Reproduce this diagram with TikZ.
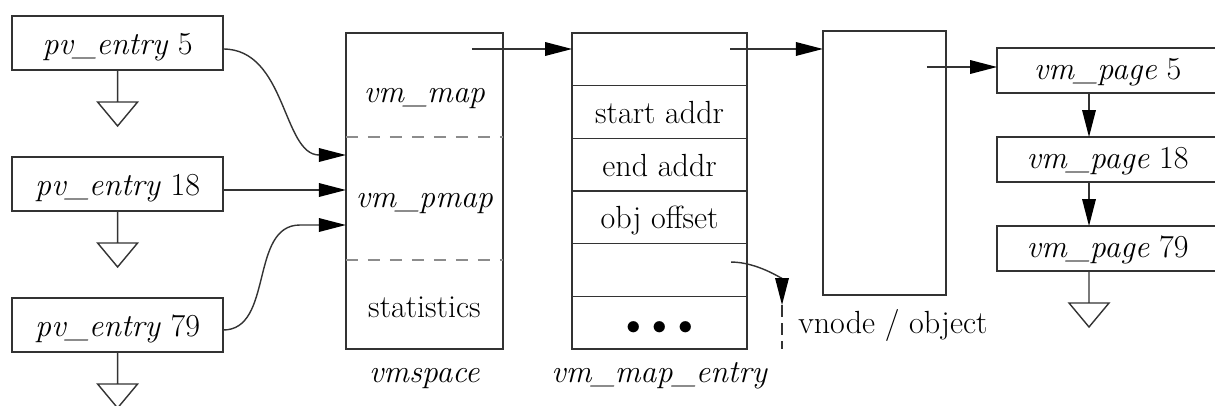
\documentclass[tikz,border=0pt]{standalone}
\usetikzlibrary{arrows.meta,positioning,calc}

% stem and open triangle hanging below a point
\newcommand{\groundsym}[1]{%
  \draw[wire] (#1) -- ++(0,-0.8) ++(-0.5,0) -- ++(1,0) -- ++(-0.5,-0.6) -- cycle;}

\begin{document}
\begin{tikzpicture}[
  font=\fontsize{22.8}{27}\selectfont,
  wire/.style    = {draw=black!80, line width=1pt},
  pvbox/.style   = {rectangle, wire, minimum width=5.275cm, minimum height=1.35cm,
                    text height=0.74cm, text depth=0.16cm, inner sep=0pt, outer sep=0pt},
  rowbox/.style  = {rectangle, wire, minimum width=4.375cm, minimum height=1.317cm,
                    text height=0.74cm, text depth=0.16cm, inner sep=0pt, outer sep=0pt},
  pagebox/.style = {rectangle, wire, minimum width=5.525cm, minimum height=1.125cm,
                    text height=0.6cm, text depth=0.16cm, inner sep=0pt, outer sep=0pt},
  tall/.style    = {rectangle, wire, inner sep=0pt, outer sep=0pt},
  sep/.style     = {draw=black!45, line width=1pt, dash pattern=on 0.3cm off 0.25cm},
  arr/.style     = {-{Triangle[length=0.675cm,width=0.34cm,color=black]}, wire},
  lbl/.style     = {anchor=base, inner sep=0pt}
]
\useasboundingbox (0,0) rectangle (30.375,-10.125);

% pv entries
\node[pvbox] (pv5)  at (2.94,-1.075) {\textit{pv\_entry} 5};
\node[pvbox] (pv18) at (2.94,-4.6)   {\textit{pv\_entry} 18};
\node[pvbox] (pv79) at (2.94,-8.125) {\textit{pv\_entry} 79};
\groundsym{pv5.south}
\groundsym{pv18.south}
\groundsym{pv79.south}

% vmspace
\node[tall, minimum width=3.925cm, minimum height=7.9cm] (vmspace) at (10.61,-4.775) {};
\draw[sep] ($(vmspace.north west)+(0,-2.6)$)   -- ($(vmspace.north east)+(0,-2.6)$);
\draw[sep] ($(vmspace.north west)+(0,-5.675)$) -- ($(vmspace.north east)+(0,-5.675)$);
\node[lbl] (lmap)   at ($(vmspace.north)+(0,-1.725)$) {\textit{vm\_map}};
\node[lbl] (lpmap)  at ($(vmspace.north)+(0,-4.35)$)  {\textit{vm\_pmap}};
\node[lbl] (lstats) at ($(vmspace.north)+(0,-7.1)$)   {statistics};
\node[lbl] (lspace) at ($(vmspace.south)+(0,-0.825)$) {\textit{vmspace}};

% vm_map_entry
\node[rowbox] (e0) at (16.49,-1.483) {};
\node[rowbox, below=0pt of e0] (e1) {start addr};
\node[rowbox, below=0pt of e1] (e2) {end addr};
\node[rowbox, below=0pt of e2] (e3) {obj offset};
\node[rowbox, below=0pt of e3] (e4) {};
\node[rowbox, below=0pt of e4] (e5) {$\bullet\,\bullet\,\bullet$};
\node[lbl] (lentry) at ($(e5.south)+(0,-0.825)$) {\textit{vm\_map\_entry}};

% vnode / object
\node[tall, minimum width=3.075cm, minimum height=6.6cm] (vnode) at (22.11,-4.075) {};

% vm pages
\node[pagebox] (pg5) at (27.69,-1.7625) {\textit{vm\_page} 5};
\node[pagebox, below=1.1cm of pg5]  (pg18) {\textit{vm\_page} 18};
\node[pagebox, below=1.1cm of pg18] (pg79) {\textit{vm\_page} 79};
\coordinate (px) at (27.225,0);
\draw[arr] (pg5.south -| px)  -- (pg18.north -| px);
\draw[arr] (pg18.south -| px) -- (pg79.north -| px);
\groundsym{pg79.south -| px}

% pv entries to vm_pmap
\coordinate (a5)  at ($(pv5.east)+(0,-0.15)$);
\coordinate (a18) at ($(pv18.east)+(0,-0.15)$);
\coordinate (a79) at ($(pv79.east)+(0,-0.125)$);
\coordinate (k79) at (7.5,-5.625);
\draw[arr] (a5) to[out=0,in=180] ($(vmspace.west)+(0,0.9)$);
\draw[arr] (a18) -- (a18 -| vmspace.west);
\draw[arr] (a79) to[out=0,in=180] (k79) -- (k79 -| vmspace.west);

% map chain
\coordinate (mp) at ($(vmspace.north east)+(-0.775,-0.4)$);
\draw[arr] (mp) -- (mp -| e0.west);
\coordinate (ob) at ($(e0.north east)+(-0.425,-0.4)$);
\draw[arr] (ob) -- (ob -| vnode.west);
\coordinate (vo) at ($(vnode.north east)+(-0.475,-0.9)$);
\draw[arr] (vo) -- (vo -| pg5.west);

% object pointer
\coordinate (oc) at ($(e4.east)+(-0.4,0.2)$);
\coordinate (ot) at (19.55,-7.625);
\draw[arr] (oc) to[out=0,in=90] (ot);
\draw[wire, dash pattern=on 0.3cm off 0.15cm] (ot) -- (ot |- e5.south);
\node[anchor=base west, inner sep=0pt] (lobj) at ($(ot)+(0.4,-0.7)$) {vnode / object};
\end{tikzpicture}
\end{document}
